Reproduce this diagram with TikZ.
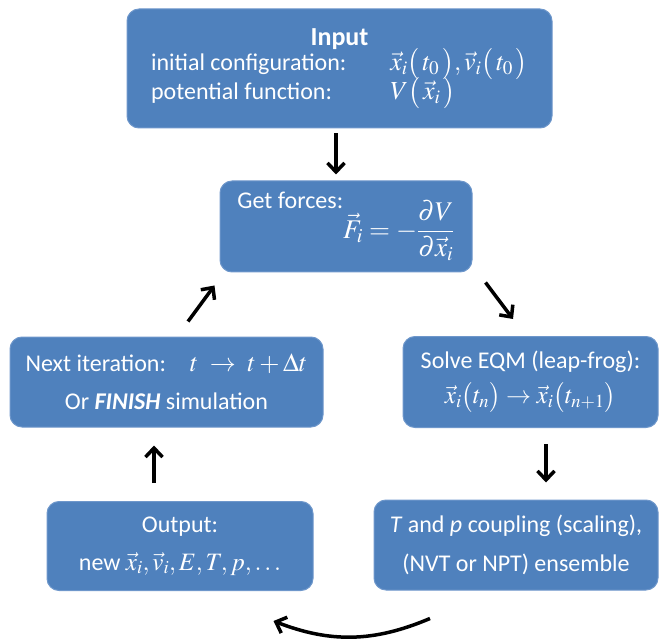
\documentclass[tikz,border=0pt]{standalone}
\usepackage{mathptmx}
\usepackage[no-math]{fontspec}
\setmainfont{Carlito}
\usetikzlibrary{arrows.meta}
\definecolor{stageblue}{HTML}{4F81BD}
\definecolor{stageedge}{HTML}{6E97CB}
\newcommand{\bigmath}[2][26]{{\fontsize{#1}{30}\selectfont$#2$}}
\tikzset{
  stage/.style={draw=stageedge,fill=stageblue,rounded corners=12pt,text=white,
    font=\fontsize{24}{29}\selectfont,align=center,inner sep=0pt,line width=1pt},
  flow/.style={line width=3.5pt,-{Straight Barb[length=9pt,width=17pt]}}
}
\begin{document}
\begin{tikzpicture}[x=1pt,y=-1pt]
  \useasboundingbox (0,0) rectangle (659,639);
  % the MD loop
  \node[stage,minimum width=425pt,minimum height=119pt] (input) at (339.5,68.5)
    {{\fontsize{26}{30}\selectfont\bfseries Input}\\[-2pt]
     \begin{tabular}{@{}l@{\hspace{44pt}}l@{}}
       initial configuration: & \bigmath[26]{\vec{x}_i\bigl(\,t_0\,\bigr),\vec{v}_i\bigl(\,t_0\,\bigr)}\\[-2pt]
       potential function: & \bigmath[26]{V\bigl(\,\vec{x}_i\,\bigr)}
     \end{tabular}};
  \node[stage,minimum width=252pt,minimum height=91pt] (forces) at (346,226.5)
    {\raisebox{30pt}{Get forces:}\bigmath[27]{\displaystyle\vec{F}_i=-\frac{\partial V}{\partial\vec{x}_i}}};
  \node[stage,minimum width=313pt,minimum height=90pt] (next) at (166.5,382)
    {Next iteration:\quad\bigmath{t\;\rightarrow\;t+\Delta t}\\[9pt]
     Or \textbf{\textit{FINISH}} simulation};
  \node[stage,minimum width=255pt,minimum height=91pt] (solve) at (530.5,382)
    {Solve EQM (leap-frog):\\[6pt]
     \bigmath[25]{\vec{x}_i\bigl(t_n\bigr)\rightarrow\vec{x}_i\bigl(t_{n+1}\bigr)}};
  \node[stage,minimum width=266pt,minimum height=89pt] (output) at (180,546)
    {Output:\\[9pt] new \bigmath[25]{\vec{x}_i,\vec{v}_i,E,T,p,\ldots}};
  \node[stage,minimum width=284pt,minimum height=90pt] (coupling) at (516,545)
    {\textit{T} and \textit{p} coupling (scaling),\\[10pt] (NVT or NPT) ensemble};

  \draw[flow] ([xshift=-3.5pt,yshift=-5pt]input.south) -- ([xshift=-10pt,yshift=6pt]forces.north);
  \draw[flow] ([xshift=13pt,yshift=-10pt]forces.south east) -- ([xshift=-17.5pt,yshift=17pt]solve.north);
  \draw[flow] ([xshift=15.5pt,yshift=-16pt]solve.south) -- ([xshift=30pt,yshift=17pt]coupling.north);
  \draw[flow] ([xshift=-86pt,yshift=-28pt]coupling.south) to[bend left=22]
    ([xshift=-40pt,yshift=-30pt]output.south east);
  \draw[flow] ([xshift=-26pt,yshift=18pt]output.north) -- ([xshift=-12.5pt,yshift=-18pt]next.south);
  \draw[flow] ([xshift=21.5pt,yshift=15pt]next.north) -- ([xshift=-5pt,yshift=-13pt]forces.south west);
\end{tikzpicture}
\end{document}
